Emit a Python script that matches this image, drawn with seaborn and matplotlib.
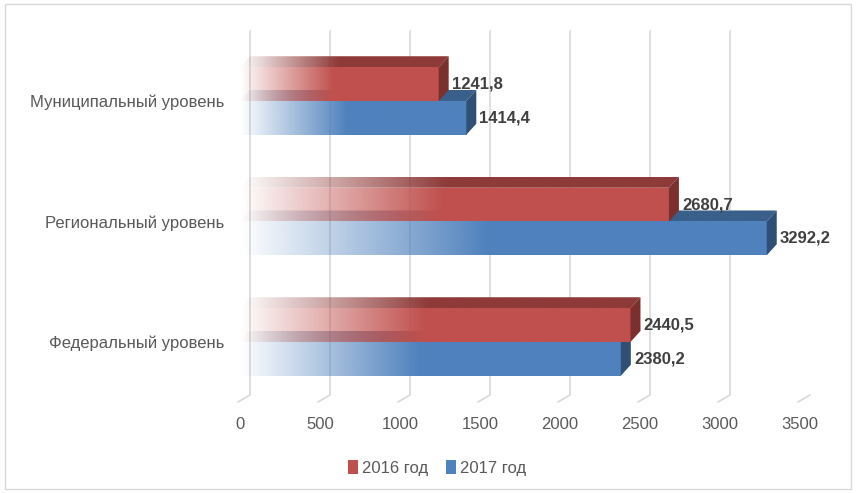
import numpy as np
import pandas as pd
import seaborn as sns
from matplotlib import pyplot as plt
from matplotlib import colors as mcolors
from matplotlib.patches import Polygon, Patch, Rectangle

levels = ['Муниципальный уровень', 'Региональный уровень', 'Федеральный уровень']
years = ['2016 год', '2017 год']
values_2016 = [1241.8, 2680.7, 2440.5]
values_2017 = [1414.4, 3292.2, 2380.2]
ticks = [0, 500, 1000, 1500, 2000, 2500, 3000, 3500]

front = {'2016 год': '#C0504D', '2017 год': '#4F81BD'}
top = {'2016 год': '#8E3A38', '2017 год': '#3A5F8B'}
side = {'2016 год': '#7B302E', '2017 год': '#2F4F75'}

df = pd.DataFrame({
    'level': levels * 2,
    'year': [years[0]] * 3 + [years[1]] * 3,
    'value': values_2016 + values_2017,
})

W, H = 856, 493
sns.set_style('white')
plt.rcParams['font.family'] = ['Liberation Sans', 'DejaVu Sans']

fig = plt.figure(figsize=(W / 100, H / 100), dpi=100)
ax = fig.add_axes([240 / W, 98 / H, 560 / W, 365 / H])

sns.barplot(data=df, y='level', x='value', hue='year', orient='h', order=levels,
            hue_order=years, palette=front, width=0.56, gap=0, saturation=1,
            legend=False, ax=ax, zorder=2)

xlim = (0, 3500)
ylim = (2.44, -0.589)
ax.set_xlim(*xlim)
ax.set_ylim(*ylim)

# depth of the fake 3d in data units
dx = 10 * (xlim[1] - xlim[0]) / 560
dy = 11 * (ylim[0] - ylim[1]) / 365


def gradient(ax, clip, color, x0, x1, y0, y1, z):
    t = np.linspace(0, 1, 256)
    img = np.zeros((1, 256, 4))
    img[..., :3] = mcolors.to_rgb(color)
    img[0, :, 3] = np.clip(t / 0.47, 0, 1)
    im = ax.imshow(img, extent=(x0, x1, y1, y0), aspect='auto',
                   interpolation='bilinear', zorder=z)
    im.set_clip_path(clip)


for k, (year, cont) in enumerate(zip(years, ax.containers)):
    z = 3 - k
    for p in cont.patches:
        x0, x1 = p.get_x(), p.get_x() + p.get_width()
        y, h = p.get_y(), p.get_height()
        p.set_facecolor('none')
        p.set_edgecolor('none')
        gradient(ax, p, front[year], x0, x1, y, y + h, z)
        tp = Polygon([(x0, y), (x0 + dx, y - dy), (x1 + dx, y - dy), (x1, y)],
                     closed=True, facecolor='none', edgecolor='none')
        ax.add_patch(tp)
        gradient(ax, tp, top[year], x0, x1 + dx, y - dy, y, z)
        ax.add_patch(Polygon([(x1, y), (x1 + dx, y - dy), (x1 + dx, y + h - dy), (x1, y + h)],
                             closed=True, facecolor=side[year], edgecolor='none', zorder=z))
    labels = [f'{v:.1f}'.replace('.', ',') for v in cont.datavalues]
    ax.bar_label(cont, labels=labels, padding=9.5, fontsize=12, fontweight='bold',
                 color='#404040', zorder=5)

# back wall grid and floor edges
ax.vlines(np.array(ticks) + dx, 0, 1, transform=ax.get_xaxis_transform(),
          colors='#d9d9d9', lw=1.2, zorder=0)
for t in ticks:
    ax.plot([t + dx, t - 2 * dx / 10], [0, -7 / 365], transform=ax.get_xaxis_transform(),
            color='#d9d9d9', lw=1.2, clip_on=False, zorder=0)

ax.set_xlim(*xlim)
ax.set_ylim(*ylim)
ax.set_xticks(ticks)
ax.set_xticklabels([str(t) for t in ticks])
ax.set_xlabel('')
ax.set_ylabel('')
ax.grid(False)
sns.despine(ax=ax, left=True, bottom=True)
ax.tick_params(axis='x', length=0, pad=16, labelsize=12, labelcolor='#595959')
ax.tick_params(axis='y', length=0, pad=11, labelsize=12, labelcolor='#595959')

handles = [Patch(facecolor=front[y], edgecolor='none') for y in years]
fig.legend(handles, years, loc='center', bbox_to_anchor=(437 / W, 1 - 468 / H), ncol=2,
           frameon=False, fontsize=12, handlelength=0.6, handleheight=0.85,
           handletextpad=0.25, columnspacing=1.1, labelcolor='#595959')

fig.patches.append(Rectangle((5 / W, 4 / H), 846 / W, 485 / H, transform=fig.transFigure,
                             fill=False, edgecolor='#d9d9d9', lw=1))

fig.savefig('out.png', dpi=100)
